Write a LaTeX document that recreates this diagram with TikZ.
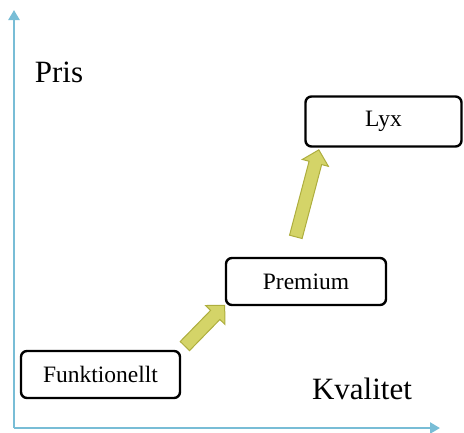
\documentclass[tikz,border=0pt]{standalone}
\usepackage{fontspec}
\setmainfont{Liberation Serif}
\usetikzlibrary{shapes.arrows,arrows.meta}
\definecolor{axiscol}{HTML}{78BDD6}
\definecolor{arrfill}{HTML}{D4D468}
\definecolor{arrdraw}{HTML}{AEAE3E}
\tikzset{
  box/.style={draw=black,line width=2.4pt,rounded corners=6pt,fill=white,font=\fontsize{23.5}{26}\selectfont,inner sep=0pt},
  axis/.style={draw=axiscol,line width=2.6pt,-{Triangle[length=10pt,width=11pt]}},
  lbl/.style={font=\fontsize{31}{34}\selectfont,inner sep=0pt},
  blockarrow/.style={single arrow,draw=arrdraw,fill=arrfill,line width=1pt,inner xsep=0pt,inner ysep=6pt,single arrow head extend=7pt,single arrow head indent=0pt,anchor=center}
}
\begin{document}
\begin{tikzpicture}[x=1pt,y=-1pt]
\useasboundingbox (0,0) rectangle (464,432);
\coordinate (o) at (14,428);
\coordinate (ytop) at (14,10);
\coordinate (xend) at (440,428);
\draw[axis] (o) -- (ytop);
\draw[axis] (o) -- (xend);
\node[lbl] (pris) at (59,72) {Pris};
\node[lbl] (kval) at (362,389) {Kvalitet};
\node[box,minimum width=159pt,minimum height=47pt] (f) at (100.5,374.5) {Funktionellt};
\node[box,minimum width=160pt,minimum height=47pt] (p) at (306,281.5) {Premium};
\node[box,minimum width=156pt,minimum height=50pt] (l) at (383.5,121.5) {Lyx};
\node[blockarrow,minimum height=57pt,rotate=45.7] (a1) at (202.5,328) {};
\node[blockarrow,minimum height=90pt,rotate=75.2] (a2) at (306.5,196.5) {};
\end{tikzpicture}
\end{document}
